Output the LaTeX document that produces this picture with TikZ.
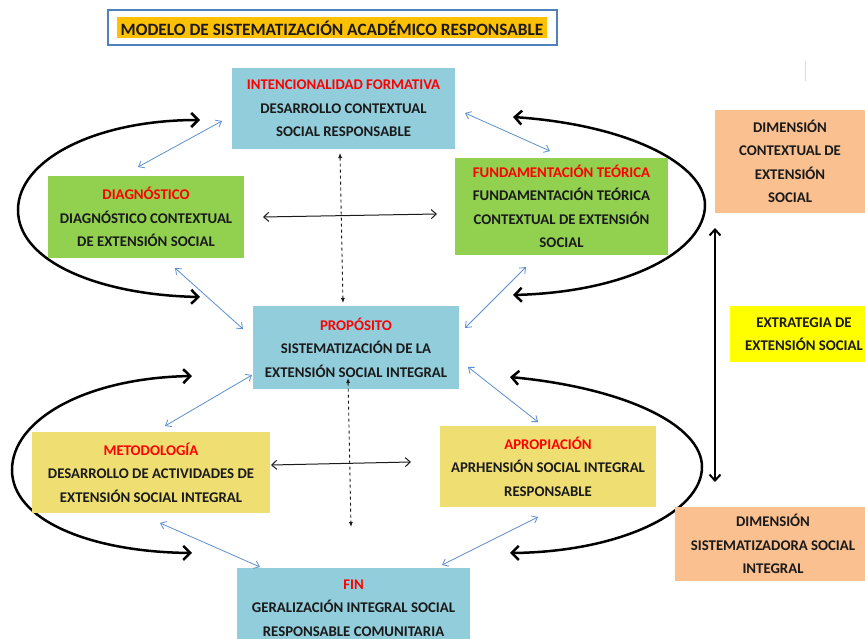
\documentclass[tikz,border=0pt]{standalone}
\usepackage{fontspec}
\setmainfont{Carlito}
\usetikzlibrary{arrows.meta}
\definecolor{lblue}{HTML}{92CDDC}
\definecolor{lgreen}{HTML}{92D050}
\definecolor{peach}{HTML}{FAC090}
\definecolor{yel}{HTML}{FFFF00}
\definecolor{myel}{HTML}{EFDF72}
\definecolor{tborder}{HTML}{4F81BD}
\definecolor{torange}{HTML}{FFC000}
\definecolor{barrow}{HTML}{5B8FD0}
\definecolor{ink}{HTML}{1A1A1A}
\begin{document}
\begin{tikzpicture}[x=1pt,y=-1pt,
  font=\bfseries\fontsize{14.8}{23.5}\selectfont,
  box/.style={rectangle, inner sep=0pt, align=center, text=ink},
  bluearr/.style={draw=barrow, line width=0.8pt, {Straight Barb[length=5pt,width=8pt]}-{Straight Barb[length=5pt,width=8pt]}},
  thinarr/.style={draw=ink, line width=1pt, {Straight Barb[length=5pt,width=9pt]}-{Straight Barb[length=5pt,width=9pt]}},
  dasharr/.style={draw=ink, line width=0.9pt, dashed, {Latex[length=5pt,width=4pt]}-{Latex[length=5pt,width=4pt]}},
  bigarr/.style={draw=black, line width=2.5pt, {Straight Barb[length=7pt,width=14pt]}-{Straight Barb[length=7pt,width=14pt]}}]
\clip (0,0) rectangle (865,639);
\fill[white] (0,0) rectangle (865,639);

% title
\node[draw=tborder, line width=2pt, minimum width=449pt, minimum height=35pt, inner sep=0pt] (tframe) at (332.5,27.5) {};
\node[fill=torange, minimum width=430pt, minimum height=21pt, inner sep=0pt, text=ink, font=\bfseries\fontsize{17.3}{20}\selectfont] (title) at (332,28) {MODELO DE SISTEMATIZACIÓN ACADÉMICO RESPONSABLE};

% big curved arrows (drawn first, boxes cover them)
\coordinate (lt1) at (200,120); \coordinate (lt2) at (200,297);
\coordinate (rt1) at (513,117); \coordinate (rt2) at (513,295);
\coordinate (lb1) at (192,376); \coordinate (lb2) at (192,553);
\coordinate (rb1) at (510,377); \coordinate (rb2) at (510,553);
\draw[bigarr] (lt1) .. controls (95,120) and (18,160) .. (18,210) .. controls (18,262) and (100,295) .. (lt2);
\draw[bigarr] (rt1) .. controls (630,125) and (705,165) .. (705,205) .. controls (705,250) and (630,292) .. (rt2);
\draw[bigarr] (lb1) .. controls (85,378) and (12,420) .. (12,470) .. controls (12,520) and (90,552) .. (lb2);
\draw[bigarr] (rb1) .. controls (625,388) and (702,425) .. (702,467) .. controls (702,512) and (620,552) .. (rb2);

% boxes
\node[box, fill=lblue, minimum width=223pt, minimum height=81pt] (intent) at (343.5,108.5)
  {\textcolor{red}{INTENCIONALIDAD FORMATIVA}\\DESARROLLO CONTEXTUAL\\SOCIAL RESPONSABLE};
\node[box, fill=lgreen, minimum width=196pt, minimum height=82pt] (diag) at (146,217)
  {\textcolor{red}{DIAGNÓSTICO}\\DIAGNÓSTICO CONTEXTUAL\\DE EXTENSIÓN SOCIAL};
\node[box, fill=lgreen, minimum width=213pt, minimum height=97pt] (fund) at (561.5,206.5)
  {\textcolor{red}{FUNDAMENTACIÓN TEÓRICA}\\FUNDAMENTACIÓN TEÓRICA\\CONTEXTUAL DE EXTENSIÓN\\SOCIAL};
\node[box, fill=peach, minimum width=150pt, minimum height=103pt] (dimc) at (790,161.5)
  {DIMENSIÓN\\CONTEXTUAL DE\\EXTENSIÓN\\SOCIAL};
\node[box, fill=lblue, minimum width=206pt, minimum height=83pt] (prop) at (356,347.5)
  {\textcolor{red}{PROPÓSITO}\\SISTEMATIZACIÓN DE LA\\EXTENSIÓN SOCIAL INTEGRAL};
\node[box, fill=yel, minimum width=148pt, minimum height=56pt] (extr) at (804,334)
  {EXTRATEGIA DE\\EXTENSIÓN SOCIAL};
\node[box, fill=myel, minimum width=238pt, minimum height=81pt] (metod) at (151,472.5)
  {\textcolor{red}{METODOLOGÍA}\\DESARROLLO DE ACTIVIDADES DE\\EXTENSIÓN SOCIAL INTEGRAL};
\node[box, fill=myel, minimum width=216pt, minimum height=81pt] (aprop) at (548,466.5)
  {\textcolor{red}{APROPIACIÓN}\\APRHENSIÓN SOCIAL INTEGRAL\\RESPONSABLE};
\node[box, fill=peach, minimum width=196pt, minimum height=74pt] (dims) at (773,544)
  {DIMENSIÓN\\SISTEMATIZADORA SOCIAL\\INTEGRAL};
\node[box, fill=lblue, minimum width=233pt, minimum height=80pt] (fin) at (353.5,608)
  {\textcolor{red}{FIN}\\GERALIZACIÓN INTEGRAL SOCIAL\\RESPONSABLE COMUNITARIA};

% blue connectors
\coordinate (a1) at (138,167); \coordinate (a2) at (222,121);
\coordinate (b1) at (465,113); \coordinate (b2) at (550,151);
\coordinate (c1) at (175,268); \coordinate (c2) at (243,329);
\coordinate (d1) at (526,267); \coordinate (d2) at (465,328);
\coordinate (e1) at (252,375); \coordinate (e2) at (165,426);
\coordinate (f1) at (468,367); \coordinate (f2) at (538,422);
\coordinate (g1) at (160,523); \coordinate (g2) at (260,567);
\coordinate (h1) at (538,517); \coordinate (h2) at (442,565);
\draw[bluearr] (a1) -- (a2);
\draw[bluearr] (b1) -- (b2);
\draw[bluearr] (c1) -- (c2);
\draw[bluearr] (d1) -- (d2);
\draw[bluearr] (e1) -- (e2);
\draw[bluearr] (f1) -- (f2);
\draw[bluearr] (g1) -- (g2);
\draw[bluearr] (h1) -- (h2);

% black horizontal connectors
\coordinate (k1) at (263,217); \coordinate (k2) at (437,214);
\coordinate (m1) at (271,465); \coordinate (m2) at (411,462);
\draw[thinarr] (k1) -- (k2);
\draw[thinarr] (m1) -- (m2);

% dashed vertical connectors
\coordinate (p1) at (340,153); \coordinate (p2) at (343,303);
\coordinate (q1) at (348,378); \coordinate (q2) at (351,527);
\draw[dasharr] (p1) -- (p2);
\draw[dasharr] (q1) -- (q2);

% vertical dimension arrow
\coordinate (v1) at (715,228); \coordinate (v2) at (715,482);
\draw[draw=black, line width=2pt, {Straight Barb[length=6pt,width=11pt]}-{Straight Barb[length=6pt,width=11pt]}] (v1) -- (v2);

% faint mark
\draw[black!15, line width=1pt] (805,61) -- (805,81);
\end{tikzpicture}
\end{document}
